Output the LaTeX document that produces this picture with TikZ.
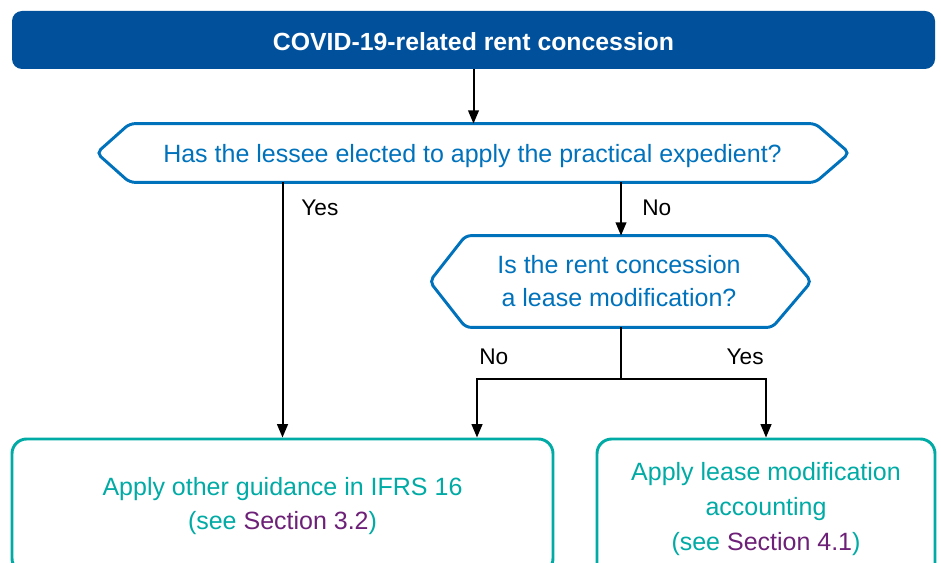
\documentclass[tikz,border=0pt]{standalone}
\usepackage{fontspec}
\setmainfont{Liberation Sans}
\usetikzlibrary{arrows.meta,calc}
\definecolor{titleblue}{RGB}{0,80,155}
\definecolor{hexblue}{RGB}{0,114,188}
\definecolor{teal}{RGB}{0,170,165}
\definecolor{secpurple}{RGB}{109,32,119}
\tikzset{every picture/.style={line width=0.55pt}}

\begin{document}
\begin{tikzpicture}[x=0.75pt,y=0.75pt,yscale=-1,xscale=1,
    txt/.style={font=\fontsize{18.75}{26}\selectfont,align=center,inner sep=0.75pt},
    titlebox/.style={fill=titleblue,rounded corners=7.5pt,text=white,font=\fontsize{18.6}{20}\selectfont\bfseries,text height=16.5pt,text depth=0pt,minimum width=692.25pt,minimum height=43.5pt,inner sep=0pt},
    hexbody/.style={txt,text=hexblue,inner sep=0pt},
    hexline/.style={draw=hexblue,line width=2.2pt,rounded corners=4pt},
    endbox/.style={txt,draw=teal,line width=2.2pt,text=teal,rounded corners=11pt,inner sep=0pt},
    arr/.style={line width=1.5pt,-{Triangle[length=10pt,width=8pt]}},
    lbl/.style={txt,font=\fontsize{17}{20}\selectfont,text=black}]
    \useasboundingbox (0,0) rectangle (941,563);
    \clip (0,0) rectangle (941,563);

    % Title
    \node (title) [titlebox] at (473.5,40) {COVID-19-related rent concession};

    % Question 1
    \node (q1) [hexbody,text height=18pt,text depth=4pt,minimum width=513.75pt,minimum height=43.5pt] at (472.5,153) {Has the lessee elected to apply the practical expedient?};
    \draw [hexline] ($(q1.west)+(-33,0)$) -- (q1.north west) -- (q1.north east) -- ($(q1.east)+(34,0)$) -- (q1.south east) -- (q1.south west) -- cycle ;

    % Question 2
    \node (q2) [hexbody,font=\fontsize{18.75}{24.75}\selectfont,minimum width=229.5pt,minimum height=68.25pt] at (619,281.5) {Is the rent concession\\a lease modification?};
    \draw [hexline] ($(q2.west)+(-36,0)$) -- (q2.north west) -- (q2.north east) -- ($(q2.east)+(39,0)$) -- (q2.south east) -- (q2.south west) -- cycle ;

    % Outcomes
    \node (lbox) [endbox,minimum width=405.75pt,minimum height=100.5pt] at (282.5,506) {Apply other guidance in IFRS 16\\(see \textcolor{secpurple}{Section 3.2})};
    \node (rbox) [endbox,minimum width=253.5pt,minimum height=105pt] at (766,509) {Apply lease modification\\accounting\\(see \textcolor{secpurple}{Section 4.1})};

    %Connectors
    \coordinate (split) at (621,379);
    \coordinate (lnoin) at (477,379);
    \draw [arr] (title) -- (title |- q1.north) ;
    \draw [arr] (q1.south -| lbox.north) -- (lbox.north) ;
    \draw [arr] (q1.south -| split) -- (q2.north -| split) ;
    \draw [line width=1.5pt] (q2.south -| split) -- (split) ;
    \draw [arr] (split) -- (lnoin) -- (lnoin |- lbox.north) ;
    \draw [arr] (split) -| (rbox.north) ;

    % Text Node
    \node (yes1) [lbl,anchor=west] at (300,208) {Yes};
    \node (no1) [lbl,anchor=west] at (641,208) {No};
    \node (no2) [lbl,anchor=west] at (478,357) {No};
    \node (yes2) [lbl,anchor=east] at (765,357) {Yes};
\end{tikzpicture}
\end{document}
